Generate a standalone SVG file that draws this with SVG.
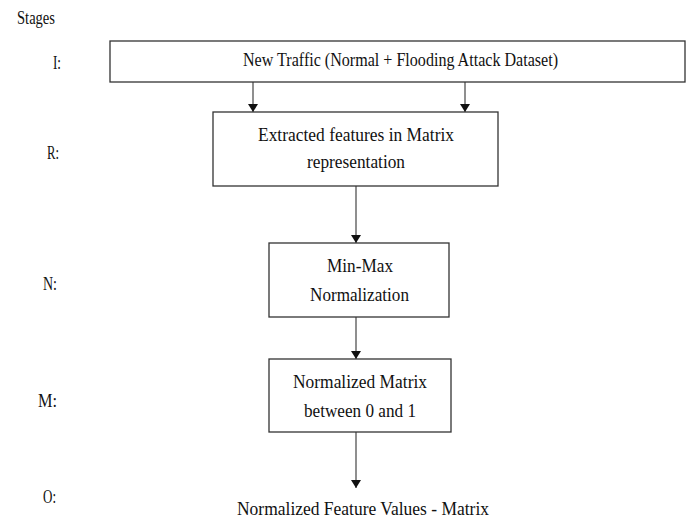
<svg xmlns="http://www.w3.org/2000/svg" width="688" height="518" viewBox="0 0 688 518">
<defs>
<style>
.box{fill:#fff;stroke:#333;stroke-width:1.3}
.t{font-family:"Liberation Serif","Times New Roman","DejaVu Serif",serif;font-size:19px;fill:#111}
.lbl{font-family:"Liberation Serif","Times New Roman","DejaVu Serif",serif;font-size:18px;fill:#111}
.edge{stroke:#333;stroke-width:1.1;fill:none;marker-end:url(#ah)}
</style>
<marker id="ah" viewBox="0 0 8 10" refX="8" refY="5" markerWidth="8" markerHeight="10" markerUnits="userSpaceOnUse" orient="auto">
<path d="M0,0 L8,5 L0,10 z" fill="#111"/>
</marker>
</defs>
<rect width="688" height="518" fill="#fff"/>
<g id="stage-labels">
<text class="lbl" x="17" y="24" textLength="38" lengthAdjust="spacingAndGlyphs">Stages</text>
<text class="lbl" x="53" y="69" textLength="8" lengthAdjust="spacingAndGlyphs">I:</text>
<text class="lbl" x="47" y="159" textLength="12" lengthAdjust="spacingAndGlyphs">R:</text>
<text class="lbl" x="43" y="290" textLength="14" lengthAdjust="spacingAndGlyphs">N:</text>
<text class="lbl" x="38" y="407" textLength="19" lengthAdjust="spacingAndGlyphs">M:</text>
<text class="lbl" x="43" y="503" textLength="13" lengthAdjust="spacingAndGlyphs">O:</text>
</g>
<g id="connectors">
<line class="edge" x1="253" y1="82" x2="253" y2="112"/>
<line class="edge" x1="465" y1="82" x2="465" y2="112"/>
<line class="edge" x1="356" y1="186" x2="356" y2="243"/>
<line class="edge" x1="356" y1="317" x2="356" y2="359"/>
<line class="edge" x1="356" y1="432" x2="356" y2="488"/>
</g>
<g id="node-input">
<rect class="box" x="110" y="41" width="575" height="41"/>
<text class="t" x="243" y="66" textLength="315" lengthAdjust="spacingAndGlyphs">New Traffic (Normal + Flooding Attack Dataset)</text>
</g>
<g id="node-features">
<rect class="box" x="213" y="112" width="285" height="74"/>
<text class="t" x="258" y="141" textLength="196" lengthAdjust="spacingAndGlyphs">Extracted features in Matrix</text>
<text class="t" x="307" y="168" textLength="98" lengthAdjust="spacingAndGlyphs">representation</text>
</g>
<g id="node-minmax">
<rect class="box" x="269" y="243" width="180" height="74"/>
<text class="t" x="327" y="272" textLength="66" lengthAdjust="spacingAndGlyphs">Min-Max</text>
<text class="t" x="310" y="301" textLength="99" lengthAdjust="spacingAndGlyphs">Normalization</text>
</g>
<g id="node-matrix">
<rect class="box" x="269" y="359" width="182" height="73"/>
<text class="t" x="293" y="388" textLength="134" lengthAdjust="spacingAndGlyphs">Normalized Matrix</text>
<text class="t" x="304" y="417" textLength="112" lengthAdjust="spacingAndGlyphs">between 0 and 1</text>
</g>
<g id="node-output">
<text class="t" x="237" y="515" textLength="252" lengthAdjust="spacingAndGlyphs">Normalized Feature Values - Matrix</text>
</g>
</svg>
